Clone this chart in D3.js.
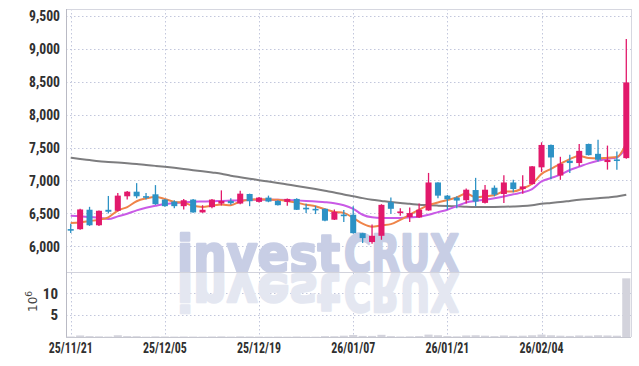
<!DOCTYPE html>
<html><head><meta charset="utf-8">
<script src="https://cdn.jsdelivr.net/npm/d3@7"></script>
<style>html,body{margin:0;padding:0;background:#fff;} svg{display:block;}</style>
</head><body><svg id="c" width="639" height="366"></svg>
<script>
// ---------- data ----------
const dates = ["25/11/21","25/11/24","25/11/25","25/11/26","25/11/27","25/11/28",
"25/12/01","25/12/02","25/12/03","25/12/04","25/12/05",
"25/12/08","25/12/09","25/12/10","25/12/11","25/12/12",
"25/12/15","25/12/16","25/12/17","25/12/18","25/12/19",
"25/12/22","25/12/23","25/12/24","25/12/26","25/12/29","25/12/30",
"26/01/02","26/01/05","26/01/06","26/01/07",
"26/01/08","26/01/09","26/01/12","26/01/13","26/01/14","26/01/15","26/01/16","26/01/19","26/01/20","26/01/21",
"26/01/22","26/01/23","26/01/26","26/01/27","26/01/28","26/01/29","26/01/30",
"26/02/02","26/02/03","26/02/04",
"26/02/05","26/02/06","26/02/09","26/02/10","26/02/11","26/02/12","26/02/13","26/02/19","26/02/20"];
const openP  = [6262,6260,6556,6320,6555,6540,6760,6830,6762,6790,6710,6680,6610,6710,6515,6595,6650,6690,6650,6795,6675,6740,6690,6675,6720,6586,6570,6570,6405,6482,6480,6200,6065,6160,6670,6525,6445,6440,6545,6970,6770,6740,6700,6855,6660,6890,6795,6970,6870,6945,7200,7540,7075,7300,7265,7555,7405,7280,7320,7340];
const highP  = [6343,6570,6600,6545,6765,6810,6840,6960,6810,6930,6720,6700,6720,6720,6625,6720,6850,6730,6845,6800,6750,6770,6700,6725,6730,6645,6615,6575,6560,6550,6610,6205,6330,6640,6740,6580,6590,6650,7115,6975,6780,6760,6880,7040,6930,6925,7080,7010,7080,7220,7580,7545,7360,7390,7555,7560,7620,7530,7440,9150];
const lowP   = [6202,6250,6310,6310,6500,6530,6710,6730,6710,6630,6600,6580,6560,6510,6510,6580,6620,6630,6640,6610,6665,6670,6620,6615,6550,6505,6490,6380,6400,6370,6195,6050,6040,6100,6495,6465,6370,6430,6540,6730,6555,6580,6650,6610,6650,6760,6660,6820,6800,6940,7130,7020,7010,7115,7215,7380,7290,7165,7165,7330];
const closeP = [6258,6560,6320,6540,6525,6770,6830,6760,6755,6640,6610,6610,6700,6515,6555,6710,6690,6655,6800,6685,6740,6680,6625,6720,6555,6580,6565,6390,6525,6478,6200,6125,6160,6630,6570,6530,6505,6555,6970,6770,6715,6695,6860,6680,6860,6785,6970,6870,6910,7215,7540,7350,7255,7265,7450,7385,7315,7315,7315,8490];
const maShort = [6354,6363,6384,6404,6441,6543,6597,6685,6728,6751,6719,6675,6663,6615,6598,6618,6634,6625,6682,6708,6714,6712,6706,6690,6664,6632,6609,6562,6523,6508,6432,6344,6298,6319,6337,6403,6479,6558,6626,6666,6703,6741,6802,6744,6762,6776,6831,6833,6879,6950,7101,7177,7254,7325,7372,7341,7334,7346,7356,7564];
const maMid = [6465,6458,6445,6435,6414,6455,6495,6546,6587,6617,6643,6657,6668,6677,6680,6683,6690,6695,6700,6705,6708,6708,6708,6705,6698,6690,6680,6670,6655,6625,6570,6480,6440,6430,6430,6432,6440,6450,6480,6520,6556,6610,6667,6690,6708,6730,6758,6790,6819,6870,6986,7037,7088,7160,7210,7260,7300,7330,7350,7494];
const maLong = [7345,7328,7310,7292,7282,7272,7262,7250,7235,7222,7208,7192,7175,7157,7140,7122,7104,7073,7050,7028,7005,6984,6962,6940,6918,6895,6870,6843,6817,6787,6760,6732,6708,6690,6672,6657,6645,6632,6625,6618,6612,6607,6600,6597,6597,6597,6600,6605,6612,6625,6645,6658,6672,6690,6708,6718,6730,6743,6758,6784];
const volume = [0.12,0.35,0.2,0.15,0.1,0.4,0.2,0.18,0.08,0.15,0.12,0.1,0.12,0.1,0.08,0.12,0.15,0.1,0.15,0.12,0.1,0.08,0.1,0.08,0.12,0.08,0.08,0.2,0.18,0.3,0.45,0.25,0.25,0.5,0.2,0.12,0.15,0.2,0.55,0.4,0.2,0.15,0.35,0.4,0.3,0.2,0.35,0.25,0.3,0.4,0.55,0.4,0.3,0.25,0.35,0.3,0.4,0.35,0.3,13.4];
const tickDates = ["25/11/21","25/12/05","25/12/19","26/01/07","26/01/21","26/02/04"];
const priceTicks = [6000,6500,7000,7500,8000,8500,9000,9500];
const volTicks = [5,10];

// ---------- layout ----------
const L = 66, R = 631, T = 9, MID = 272, B = 337;
const svg = d3.select("#c");
const FONT = "'Liberation Sans Narrow','Roboto Condensed','Liberation Sans',Arial,sans-serif";
const UP = "#e2196b", DOWN = "#2d92c5";

const x = d3.scaleBand().domain(dates).range([L, R]).paddingInner(0.36).paddingOuter(0.18);
const cx = d => x(d) + x.bandwidth() / 2;
const y = d3.scaleLinear().domain([5610, 9605]).range([MID, T]);
const yv = d3.scaleLinear().domain([0, 14.85]).range([B, MID]);

const rows = dates.map((d, i) => ({d, o: openP[i], h: highP[i], l: lowP[i], c: closeP[i], v: volume[i]}));

// grid
const grid = svg.append("g").attr("stroke", "#c2c7dc").attr("stroke-dasharray", "1.5,2.5").attr("stroke-width", 1);
grid.selectAll(".hp").data(priceTicks).join("line")
  .attr("x1", L).attr("x2", R).attr("y1", d => Math.round(y(d)) + 0.5).attr("y2", d => Math.round(y(d)) + 0.5);
grid.selectAll(".hv").data(volTicks).join("line").attr("class","hv")
  .attr("x1", L).attr("x2", R).attr("y1", d => Math.round(yv(d)) + 0.5).attr("y2", d => Math.round(yv(d)) + 0.5);
grid.selectAll(".vx").data(tickDates).join("line").attr("class","vx")
  .attr("x1", d => Math.round(cx(d)) + 0.5).attr("x2", d => Math.round(cx(d)) + 0.5).attr("y1", T).attr("y2", B);

// watermark (with mirrored reflection)
const WM_BASE = 272;
const wmParts = [{t: "invest", x: 177, w: 163}, {t: "CRUX", x: 344, w: 115}];
const wm = svg.append("g").attr("font-family", "'DejaVu Sans','Liberation Sans',Arial,sans-serif")
  .attr("font-weight", "bold").attr("font-size", 51).attr("stroke-linejoin", "round");
wmParts.forEach(p => {
  wm.append("text").attr("x", p.x).attr("y", WM_BASE).attr("textLength", p.w).attr("lengthAdjust", "spacingAndGlyphs")
    .attr("fill", "#c8cee5").attr("stroke", "#c8cee5").attr("stroke-width", 2.5).text(p.t);
  wm.append("text").attr("x", p.x).attr("y", WM_BASE).attr("textLength", p.w).attr("lengthAdjust", "spacingAndGlyphs")
    .attr("transform", `translate(0,${2 * WM_BASE + 2}) scale(1,-1)`)
    .attr("fill", "#e4e7f1").attr("stroke", "#e4e7f1").attr("stroke-width", 2.5).text(p.t);
});

// frame lines
svg.append("line").attr("x1", L).attr("x2", R).attr("y1", T + 0.5).attr("y2", T + 0.5).attr("stroke", "#d6d7e0");
svg.append("line").attr("x1", R + 0.5).attr("x2", R + 0.5).attr("y1", T).attr("y2", B).attr("stroke", "#d6d7e0");
svg.append("line").attr("x1", L).attr("x2", R).attr("y1", MID + 0.5).attr("y2", MID + 0.5).attr("stroke", "#d2d3dc");
svg.append("line").attr("x1", L).attr("x2", R).attr("y1", B + 0.5).attr("y2", B + 0.5).attr("stroke", "#c6c7d0");
svg.append("line").attr("x1", L + 0.5).attr("x2", L + 0.5).attr("y1", T).attr("y2", B).attr("stroke", "#b9bac4");

// volume bars
const vw = x.step() * 0.86;
svg.append("g").selectAll("rect").data(rows).join("rect")
  .attr("x", r => cx(r.d) - vw / 2).attr("width", vw)
  .attr("y", r => yv(r.v)).attr("height", r => Math.max(0, B - yv(r.v)))
  .attr("fill", "#d3d3dc");

// moving averages
const line = arr => d3.line().x((v, i) => cx(dates[i])).y(v => y(v)).curve(d3.curveMonotoneX)(arr);
svg.append("path").attr("d", line(maLong)).attr("fill", "none").attr("stroke", "#7d7d7f").attr("stroke-width", 2);
svg.append("path").attr("d", line(maMid)).attr("fill", "none").attr("stroke", "#c95ae6").attr("stroke-width", 2);
svg.append("path").attr("d", line(maShort)).attr("fill", "none").attr("stroke", "#ef8449").attr("stroke-width", 2);

// candles
const cg = svg.append("g");
const col = r => r.c >= r.o ? UP : DOWN;
cg.selectAll(".w").data(rows).join("line")
  .attr("x1", r => cx(r.d)).attr("x2", r => cx(r.d))
  .attr("y1", r => y(r.h)).attr("y2", r => y(r.l))
  .attr("stroke", col).attr("stroke-width", 1.3);
const bw = x.bandwidth();
cg.selectAll(".b").data(rows).join("rect")
  .attr("x", r => cx(r.d) - bw / 2).attr("width", bw)
  .attr("y", r => y(Math.max(r.o, r.c)))
  .attr("height", r => Math.max(1.6, Math.abs(y(r.o) - y(r.c))))
  .attr("fill", col);

// axes
const styleAxis = g => {
  g.select(".domain").remove();
  g.selectAll("text").attr("font-family", FONT).attr("font-size", 15).attr("font-weight", "bold").attr("fill", "#303030");
};
svg.append("g").attr("transform", `translate(${L},0)`)
  .call(d3.axisLeft(y).tickValues(priceTicks).tickFormat(d3.format(",")).tickSize(0).tickPadding(6))
  .call(styleAxis)
  .selectAll("text").attr("textLength", 31).attr("lengthAdjust", "spacingAndGlyphs");
svg.append("g").attr("transform", `translate(${L},0)`)
  .call(d3.axisLeft(yv).tickValues(volTicks).tickFormat(d3.format("d")).tickSize(0).tickPadding(8))
  .call(styleAxis);
svg.append("g").attr("transform", `translate(0,${B})`)
  .call(d3.axisBottom(x).tickValues(tickDates).tickSize(0).tickPadding(5))
  .call(styleAxis)
  .selectAll("text").attr("textLength", 44).attr("lengthAdjust", "spacingAndGlyphs");

// 10^6 unit label
const ut = svg.append("text").attr("transform", "translate(37,312) rotate(-90)")
  .attr("font-family", "'DejaVu Sans',sans-serif").attr("font-size", 12).attr("fill", "#444");
ut.append("tspan").text("10");
ut.append("tspan").attr("font-size", 9).attr("dy", -5).text("6");
</script></body></html>
